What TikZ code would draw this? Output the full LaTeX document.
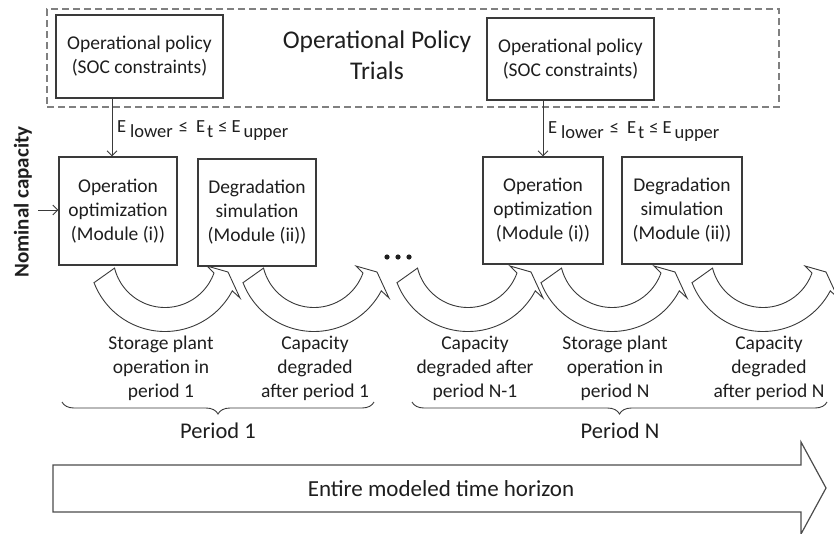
\documentclass[tikz,border=0pt]{standalone}
\usepackage{fontspec}
\setmainfont{Carlito}
\usetikzlibrary{arrows.meta,decorations.pathreplacing}
\definecolor{boxc}{HTML}{3A3A3A}
\definecolor{dashc}{HTML}{808080}
\definecolor{txtc}{HTML}{1E1E1E}
\newcommand\bxfont{\fontsize{19.5}{24}\selectfont}
\newcommand\curvarrow[1]{%
  \begin{scope}[shift={(#1,0)}]
    \draw[carrow] (-2,282.7) -- ({69+52*cos(166)},{255.5+52*sin(166)})
      -- plot[domain=166:19.7,samples=50,variable=\a] ({69+52*cos(\a)},{255.5+52*sin(\a)})
      -- (111,266) -- (132,272) -- (144,298)
      -- plot[domain=27.7:159,samples=50,variable=\a] ({69+76*cos(\a)},{255.5+76*sin(\a)})
      -- cycle;
  \end{scope}}
\begin{document}
\begin{tikzpicture}[x=1pt,y=-1pt,
  every node/.style={text=txtc},
  box/.style={draw=boxc, line width=1.1pt, inner sep=0pt, align=center, font=\bxfont, fill=white},
  lbl/.style={inner sep=0pt, align=center, font=\bxfont},
  conn/.style={draw=boxc, line width=0.9pt, -{Straight Barb[length=5pt,width=10pt]}},
  carrow/.style={draw=boxc, line width=0.9pt, fill=white, line join=miter},
  bigarrow/.style={draw=black!70, line width=1.2pt, fill=white},
  bracestyle/.style={draw=boxc, line width=0.9pt, decorate, decoration={brace, mirror, amplitude=12pt}}]
\useasboundingbox (0,0) rectangle (834,533);
% trials frame
\node[draw=dashc, dash pattern=on 7pt off 4pt, line width=1.4pt, inner sep=0pt,
  minimum width=732pt, minimum height=98pt] (trials) at (413,58) {};
\node[inner sep=0pt, align=center, font=\fontsize{25.5}{31}\selectfont] (title) at (377,55) {Operational Policy\\Trials};
% boxes
\node[box, minimum width=167pt, minimum height=83pt] (pol1) at (139.5,56.5) {Operational policy\\(SOC constraints)};
\node[box, minimum width=167pt, minimum height=82pt] (pol2) at (570.5,59) {Operational policy\\(SOC constraints)};
\node[box, minimum width=118pt, minimum height=108pt] (op1) at (118,211) {Operation\\optimization\\(Module (i))};
\node[box, minimum width=118pt, minimum height=107pt] (deg1) at (257,212.5) {Degradation\\simulation\\(Module (ii))};
\node[box, minimum width=120pt, minimum height=107pt] (op2) at (543,210.5) {Operation\\optimization\\(Module (i))};
\node[box, minimum width=120pt, minimum height=107pt] (deg2) at (682,210.5) {Degradation\\simulation\\(Module (ii))};
% policy arrows
\coordinate (ax1) at (112,0);
\draw[conn] (pol1.south -| ax1) -- (op1.north -| ax1);
\draw[conn] (pol2.south -| op2) -- (op2.north);
\node[anchor=base west, inner sep=0pt, font=\fontsize{18.5}{22}\selectfont] (lab1) at (117,132)
  {E\hspace{4pt}\raisebox{-5pt}{lower}\hspace{6pt}≤\hspace{8pt}E\hspace{2pt}\raisebox{-5pt}{t}\hspace{5pt}≤\hspace{4pt}E\hspace{3pt}\raisebox{-5pt}{upper}};
\node[anchor=base west, inner sep=0pt, font=\fontsize{18.5}{22}\selectfont] (lab2) at (548,133)
  {E\hspace{4pt}\raisebox{-5pt}{lower}\hspace{6pt}≤\hspace{8pt}E\hspace{2pt}\raisebox{-5pt}{t}\hspace{5pt}≤\hspace{4pt}E\hspace{3pt}\raisebox{-5pt}{upper}};
% nominal capacity
\node[rotate=90, inner sep=0pt, font=\fontsize{21}{24}\selectfont\bfseries] (nom) at (23,202) {Nominal capacity};
\coordinate (nomstart) at (38,210);
\draw[conn] (nomstart) -- (nomstart -| op1.west);
% curved arrows
\curvarrow{96}
\curvarrow{245}
\curvarrow{399}
\curvarrow{543}
\curvarrow{694}
% dots
\fill[txtc] (387,257) circle[radius=2.6pt];
\fill[txtc] (398,257) circle[radius=2.6pt];
\fill[txtc] (409,257) circle[radius=2.6pt];
% labels under arcs
\node[lbl] (t1) at (161,368) {Storage plant\\operation in\\period 1};
\node[lbl] (t2) at (315,368) {Capacity\\degraded\\after period 1};
\node[lbl] (t3) at (475,368) {Capacity\\degraded after\\period N-1};
\node[lbl] (t4) at (615,368) {Storage plant\\operation in\\period N};
\node[lbl] (t5) at (769,368) {Capacity\\degraded\\after period N};
% braces
\draw[bracestyle] (62,402) -- (374,402);
\draw[bracestyle] (412,402) -- (827,402);
\node[inner sep=0pt, font=\fontsize{22.5}{26}\selectfont] (p1) at (218,431) {Period 1};
\node[inner sep=0pt, font=\fontsize{22.5}{26}\selectfont] (pn) at (620,431) {Period N};
% big arrow
\draw[bigarrow] (53,465) -- (801,465) -- (801,442) -- (826,488) -- (801,534) -- (801,512) -- (53,512) -- cycle;
\node[inner sep=0pt, font=\fontsize{23}{27}\selectfont] (horizon) at (441,489) {Entire modeled time horizon};
\end{tikzpicture}
\end{document}
